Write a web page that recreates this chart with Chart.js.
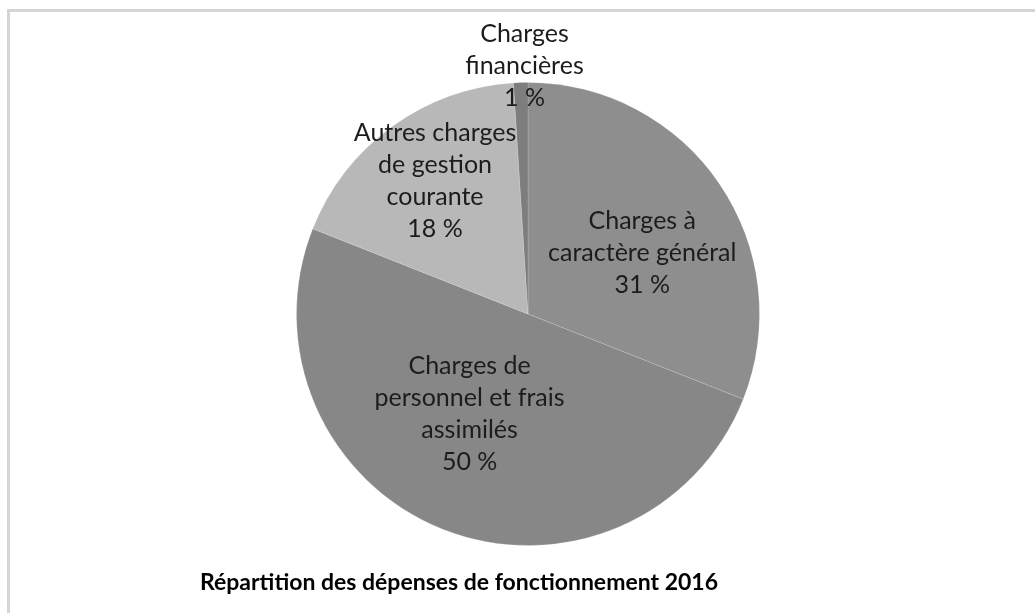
<!DOCTYPE html>
<html>
<head>
<meta charset="utf-8">
<script src="https://cdn.jsdelivr.net/npm/chart.js@4/dist/chart.umd.min.js"></script>
<style>
  html, body { margin: 0; padding: 0; background: #fff; width: 1035px; height: 613px; overflow: hidden; }
  #frame { position: absolute; left: 7px; top: 9px; width: 1040px; height: 620px;
           border-top: 3px solid #d5d5d5; border-left: 3px solid #d5d5d5; }
  #c { position: absolute; left: 9px; top: 12px; }
</style>
</head>
<body>
<div id="frame"></div>
<canvas id="c" width="900" height="600"></canvas>
<script>
const categories = [
  "Charges à caractère général",
  "Charges de personnel et frais assimilés",
  "Autres charges de gestion courante",
  "Charges financières"
];
const labelLines = [
  ["Charges à", "caractère général"],
  ["Charges de", "personnel et frais", "assimilés"],
  ["Autres charges", "de gestion", "courante"],
  ["Charges", "financières"]
];
const values = [31, 50, 18, 1];
const sliceColors = ["#8e8e8e", "#878787", "#b8b8b8", "#7d7d7d"];
const chartTitle = "Répartition des dépenses de fonctionnement 2016";

const labelPlugin = {
  id: 'sliceLabels',
  afterDatasetsDraw(chart, args, opts) {
    const ctx = chart.ctx;
    const meta = chart.getDatasetMeta(0);
    ctx.save();
    ctx.font = opts.font;
    ctx.fillStyle = opts.color;
    ctx.textAlign = 'center';
    ctx.textBaseline = 'middle';
    meta.data.forEach((arc, i) => {
      const p = arc.getProps(['x', 'y', 'startAngle', 'endAngle', 'outerRadius'], true);
      const a = (p.startAngle + p.endAngle) / 2 + opts.angleOffsets[i] * Math.PI / 180;
      const r = p.outerRadius * opts.radial[i];
      const cx = p.x + Math.cos(a) * r;
      const cy = p.y + Math.sin(a) * r;
      const lines = labelLines[i].concat([values[i] + ' %']);
      const lh = opts.lineHeight;
      const top = cy - (lines.length - 1) * lh / 2;
      lines.forEach((t, k) => ctx.fillText(t, cx, top + k * lh));
    });
    ctx.restore();
  }
};

const titlePlugin = {
  id: 'bottomTitle',
  afterDraw(chart, args, opts) {
    const ctx = chart.ctx;
    ctx.save();
    ctx.font = opts.font;
    ctx.fillStyle = opts.color;
    ctx.textAlign = 'center';
    ctx.textBaseline = 'middle';
    ctx.fillText(chartTitle, chart.width / 2, opts.y);
    ctx.restore();
  }
};

new Chart(document.getElementById('c'), {
  type: 'pie',
  data: {
    labels: categories,
    datasets: [{
      data: values,
      backgroundColor: sliceColors,
      borderColor: 'rgba(255,255,255,0.15)',
      borderWidth: 1,
      hoverOffset: 0
    }]
  },
  options: {
    responsive: false,
    animation: false,
    events: [],
    layout: { padding: { left: 287, right: 149, top: 70, bottom: 66 } },
    plugins: {
      legend: { display: false },
      tooltip: { enabled: false },
      title: { display: false },
      sliceLabels: {
        font: '25px Lato',
        color: '#1c1c1c',
        lineHeight: 32,
        radial: [0.56, 0.50, 0.70, 1.07],
        angleOffsets: [6, 8.7, 1, 1]
      },
      bottomTitle: {
        font: 'bold 23px Lato',
        color: '#000',
        y: 571
      }
    }
  },
  plugins: [labelPlugin, titlePlugin]
});
</script>
</body>
</html>
